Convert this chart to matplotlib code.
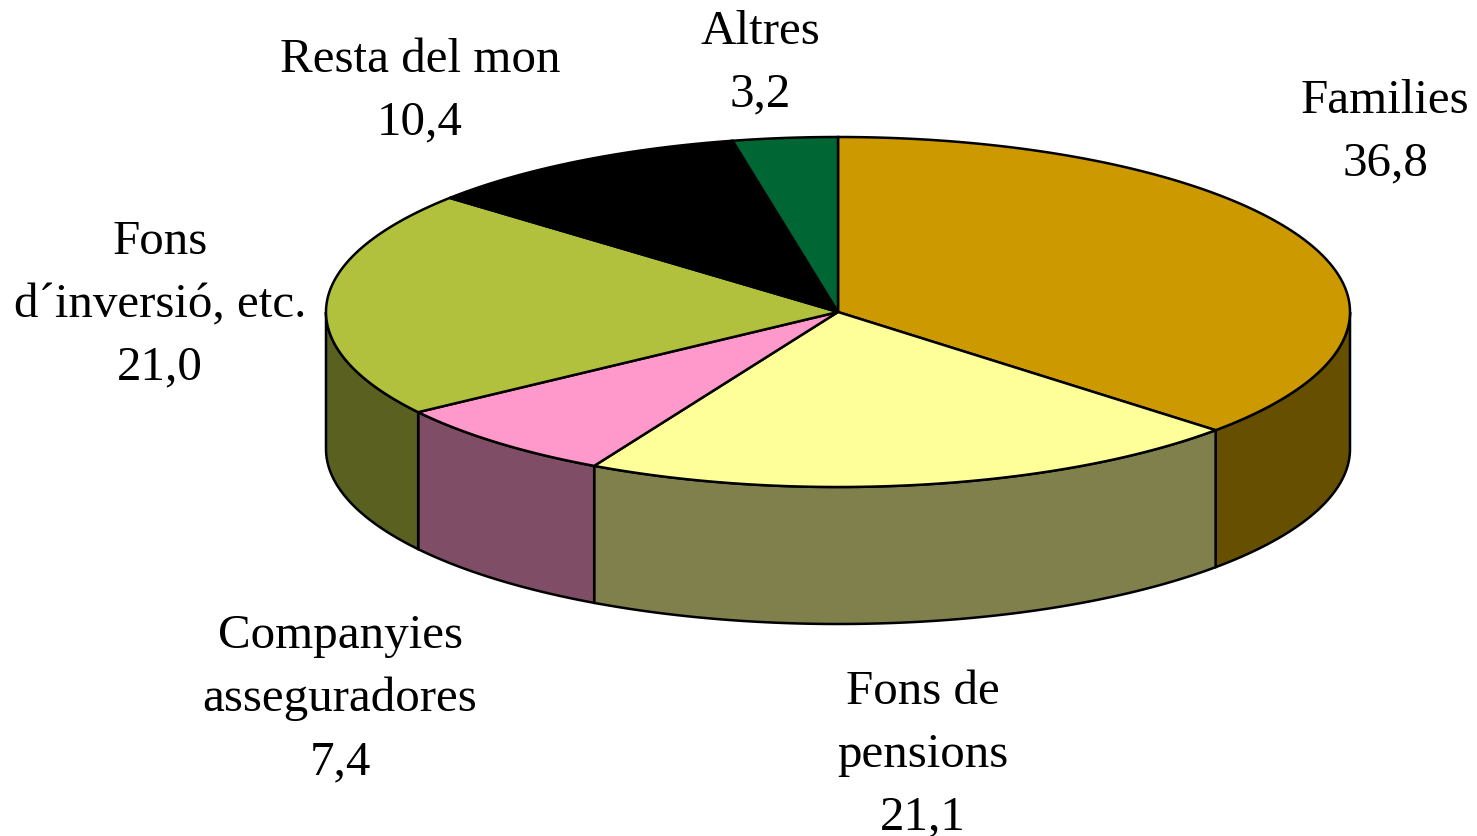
import numpy as np
import matplotlib
matplotlib.use("Agg")
import matplotlib.pyplot as plt
from matplotlib.patches import Polygon

labels = ["Families", "Fons de\npensions", "Companyies\nasseguradores",
          "Fons\nd´inversió, etc.", "Resta del mon", "Altres"]
values = [36.8, 21.1, 7.4, 21.0, 10.4, 3.2]
value_labels = ["36,8", "21,1", "7,4", "21,0", "10,4", "3,2"]
top_colors = ["#CC9900", "#FFFF99", "#FF99CC", "#B2C13D", "#000000", "#006633"]
side_colors = ["#665000", "#80804D", "#804D66", "#596020", "#000000", "#003319"]
label_pos = [(1385, 132), (923, 755), (340, 699), (160, 305), (420, 91), (760, 63)]

cx, cy = 838, 313
rx, ry = 512, 175
depth = 137

plt.rcParams["font.family"] = ["Liberation Serif", "DejaVu Serif"]
fig = plt.figure(figsize=(14.77, 8.37), dpi=100)
ax = fig.add_axes([0, 0, 1, 1])
ax.set_xlim(0, 1477)
ax.set_ylim(837, 0)
ax.axis("off")


def rim(a0, a1, dy=0):
    # angle in degrees, clockwise from the top of the ellipse
    t = np.radians(np.linspace(a0, a1, max(int(abs(a1 - a0) * 2), 2)))
    return np.column_stack([cx + rx * np.sin(t), cy - ry * np.cos(t) + dy])


edges = np.concatenate([[0], np.cumsum(values)]) / 100 * 360
edges[-1] = 360

# sides first, only the front half of the cake shows
for i in range(len(values)):
    a0, a1 = max(edges[i], 90), min(edges[i + 1], 270)
    if a1 <= a0:
        continue
    pts = np.vstack([rim(a0, a1), rim(a0, a1, depth)[::-1]])
    ax.add_patch(Polygon(pts, closed=True, fc=side_colors[i], ec="black", lw=1.8))

# top slices
for i in range(len(values)):
    pts = np.vstack([[[cx, cy]], rim(edges[i], edges[i + 1])])
    ax.add_patch(Polygon(pts, closed=True, fc=top_colors[i], ec="black", lw=1.8))

for name, val, (x, y) in zip(labels, value_labels, label_pos):
    ax.text(x, y, name + "\n" + val, ha="center", va="center", fontsize=35.3,
            color="black", linespacing=1.55)

fig.savefig("out.png", dpi=100)
